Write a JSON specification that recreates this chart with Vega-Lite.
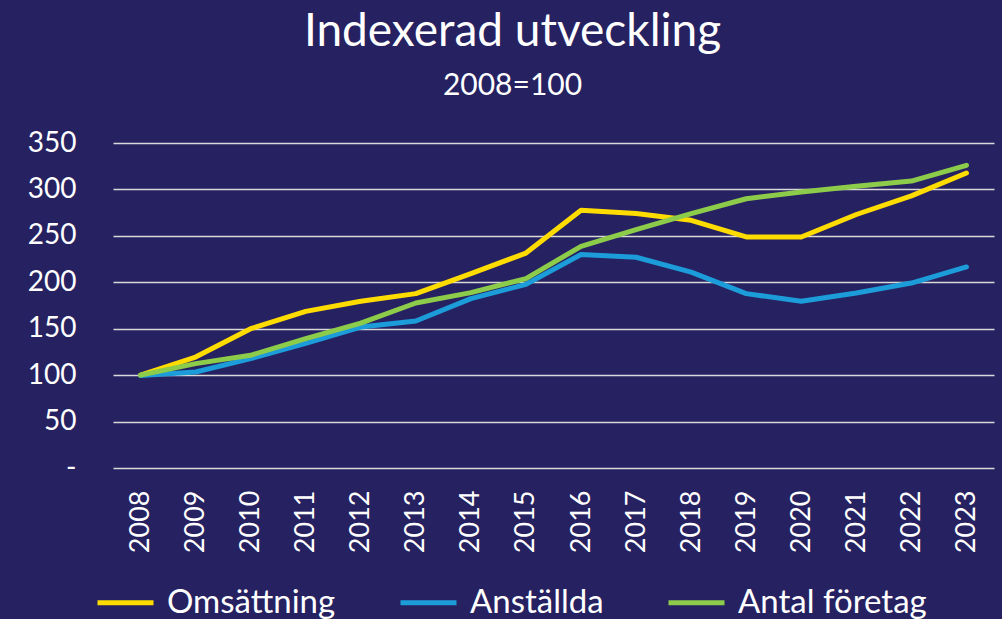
{
  "$schema": "https://vega.github.io/schema/vega-lite/v6.json",
  "width": 881,
  "height": 325,
  "autosize": {"type": "none"},
  "padding": {"left": 113, "top": 143, "right": 8, "bottom": 151},
  "background": "#262161",
  "title": {
    "text": "Indexerad utveckling",
    "subtitle": "2008=100",
    "anchor": "middle",
    "frame": "group",
    "dx": -41,
    "offset": 27,
    "font": "Lato",
    "fontSize": 46,
    "fontWeight": "normal",
    "color": "#ffffff",
    "subtitleFont": "Lato",
    "subtitleFontSize": 30,
    "subtitleColor": "#ffffff",
    "subtitlePadding": 15
  },
  "config": {
    "view": {"stroke": null},
    "font": "Lato"
  },
  "data": {
    "values": [
      {"year": "2008", "series": "Omsättning", "value": 100},
      {"year": "2009", "series": "Omsättning", "value": 119.5},
      {"year": "2010", "series": "Omsättning", "value": 150},
      {"year": "2011", "series": "Omsättning", "value": 168.7},
      {"year": "2012", "series": "Omsättning", "value": 179.5},
      {"year": "2013", "series": "Omsättning", "value": 187.8},
      {"year": "2014", "series": "Omsättning", "value": 209.3},
      {"year": "2015", "series": "Omsättning", "value": 231.5},
      {"year": "2016", "series": "Omsättning", "value": 277.5},
      {"year": "2017", "series": "Omsättning", "value": 274},
      {"year": "2018", "series": "Omsättning", "value": 266.7},
      {"year": "2019", "series": "Omsättning", "value": 248.8},
      {"year": "2020", "series": "Omsättning", "value": 248.8},
      {"year": "2021", "series": "Omsättning", "value": 273},
      {"year": "2022", "series": "Omsättning", "value": 293},
      {"year": "2023", "series": "Omsättning", "value": 317.7},
      {"year": "2008", "series": "Anställda", "value": 99.5},
      {"year": "2009", "series": "Anställda", "value": 103.4},
      {"year": "2010", "series": "Anställda", "value": 117.8},
      {"year": "2011", "series": "Anställda", "value": 134.3},
      {"year": "2012", "series": "Anställda", "value": 151.8},
      {"year": "2013", "series": "Anställda", "value": 158.3},
      {"year": "2014", "series": "Anställda", "value": 182.4},
      {"year": "2015", "series": "Anställda", "value": 197.8},
      {"year": "2016", "series": "Anställda", "value": 230},
      {"year": "2017", "series": "Anställda", "value": 227},
      {"year": "2018", "series": "Anställda", "value": 211},
      {"year": "2019", "series": "Anställda", "value": 187.8},
      {"year": "2020", "series": "Anställda", "value": 179.5},
      {"year": "2021", "series": "Anställda", "value": 188.4},
      {"year": "2022", "series": "Anställda", "value": 199.2},
      {"year": "2023", "series": "Anställda", "value": 216.5},
      {"year": "2008", "series": "Antal företag", "value": 100},
      {"year": "2009", "series": "Antal företag", "value": 112.4},
      {"year": "2010", "series": "Antal företag", "value": 121.4},
      {"year": "2011", "series": "Antal företag", "value": 139.3},
      {"year": "2012", "series": "Antal företag", "value": 156.1},
      {"year": "2013", "series": "Antal företag", "value": 177.7},
      {"year": "2014", "series": "Antal företag", "value": 188.9},
      {"year": "2015", "series": "Antal företag", "value": 204},
      {"year": "2016", "series": "Antal företag", "value": 238.7},
      {"year": "2017", "series": "Antal företag", "value": 256.7},
      {"year": "2018", "series": "Antal företag", "value": 274},
      {"year": "2019", "series": "Antal företag", "value": 290},
      {"year": "2020", "series": "Antal företag", "value": 297.2},
      {"year": "2021", "series": "Antal företag", "value": 303.4},
      {"year": "2022", "series": "Antal företag", "value": 309},
      {"year": "2023", "series": "Antal företag", "value": 326}
    ]
  },
  "mark": {"type": "line", "strokeWidth": 5, "strokeCap": "round", "strokeJoin": "round"},
  "encoding": {
    "x": {
      "field": "year",
      "type": "ordinal",
      "scale": {"type": "point", "padding": 0.5},
      "axis": {
        "title": null,
        "labelAngle": -90,
        "labelFontSize": 27,
        "labelColor": "#ffffff",
        "labelPadding": 22,
        "ticks": false,
        "domain": false,
        "grid": false
      }
    },
    "y": {
      "field": "value",
      "type": "quantitative",
      "scale": {"domain": [0, 350], "nice": false, "zero": true},
      "axis": {
        "title": null,
        "values": [0, 50, 100, 150, 200, 250, 300, 350],
        "labelExpr": "datum.value == 0 ? '-\u00a0\u00a0' : datum.label",
        "labelFontSize": 28,
        "labelColor": "#ffffff",
        "labelPadding": 37,
        "ticks": false,
        "domain": false,
        "grid": true,
        "gridColor": "#d9d9d9",
        "gridWidth": 1.5
      }
    },
    "color": {
      "field": "series",
      "type": "nominal",
      "scale": {
        "domain": ["Omsättning", "Anställda", "Antal företag"],
        "range": ["#ffdc00", "#1c9cd8", "#8dcb4a"]
      },
      "legend": {
        "title": null,
        "orient": "none",
        "direction": "horizontal",
        "legendX": -18,
        "legendY": 429,
        "padding": 0,
        "symbolType": "stroke",
        "symbolSize": 3136,
        "symbolStrokeWidth": 5,
        "labelFontSize": 33,
        "labelColor": "#ffffff",
        "labelOffset": 11,
        "columnPadding": 54,
        "labelLimit": 400
      }
    }
  }
}
